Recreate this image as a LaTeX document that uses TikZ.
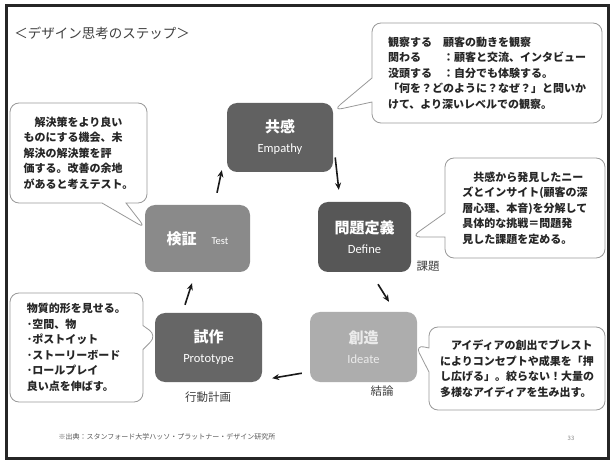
\documentclass[tikz,border=0pt]{standalone}
\usepackage{fontspec}
\setmainfont{Noto Sans CJK JP}
\newfontfamily\jp{Noto Sans CJK JP}
\newfontfamily\lat{Carlito}
\newcommand\enword{\lat\mdseries\fontsize{12.5}{14}\selectfont}
\usetikzlibrary{shapes.callouts,calc,arrows.meta}
\begin{document}
\begin{tikzpicture}[x=1pt,y=-1pt,
  stepbox/.style={rounded corners=10pt, text=white, align=center, inner sep=0pt,
    font=\jp\bfseries\fontsize{15}{22}\selectfont},
  note/.style={rectangle callout, draw=black!40, line width=0.8pt, fill=white,
    rounded corners=9pt, callout pointer width=24pt, align=left, inner sep=0pt,
    text=black!85, font=\jp\bfseries\fontsize{11}{15.5}\selectfont},
  flow/.style={-{Stealth[length=7pt,width=6pt]}, line width=1.6pt, black!90},
  lbl/.style={text=black!75, font=\jp\fontsize{11.5}{13}\selectfont}]
\useasboundingbox (0,0) rectangle (613,462);
\fill[white] (0,0) rectangle (613,462);
\node[draw=black!85, line width=2.6pt, minimum width=602pt, minimum height=453pt, inner sep=0pt] (frame) at (307.5,232) {};

\node[text=black!75, font=\jp\fontsize{13.5}{16}\selectfont] (title) at (102,33) {＜デザイン思考のステップ＞};

% step boxes
\node[stepbox, fill=black!62, minimum width=106pt, minimum height=69pt] (empathy) at (280,137.5)
  {共感\\[-2pt]{\enword Empathy}};
\node[stepbox, fill=black!66, minimum width=93pt, minimum height=70pt] (define) at (364.5,237)
  {問題定義\\[-2pt]{\enword Define}};
\node[stepbox, fill=black!32, text=white!92!black, minimum width=107pt, minimum height=70pt] (ideate) at (363.5,347)
  {創造\\[-2pt]{\enword Ideate}};
\node[stepbox, fill=black!60, minimum width=107pt, minimum height=69pt] (proto) at (208.5,347.5)
  {試作\\[-2pt]{\enword Prototype}};
\node[stepbox, fill=black!46, minimum width=105pt, minimum height=67pt] (test) at (197.5,238.5)
  {検証\quad{\enword\fontsize{10.5}{13}\selectfont Test}};

% arrows
\draw[flow] ($(test.north)+(19.5,-12)$) -- ($(empathy.south west)+(-5,-2)$);
\draw[flow] ($(empathy.east)+(2,20)$) -- ($(define.north west)+(21,-12)$);
\draw[flow] ($(define.south)+(13.5,12)$) -- ($(ideate.north)+(25.5,-10)$);
\draw[flow] ($(ideate.south west)+(-8,-9)$) -- ($(proto.south east)+(10,-4)$);
\draw[flow] ($(proto.north)+(-23.5,-8)$) -- ($(test.south)+(-5.5,11)$);

% labels
\node[lbl] (lkadai) at (428,266) {課題};
\node[lbl] (lketsu) at (382,391) {結論};
\node[lbl] (lkodo) at (208,397) {行動計画};

% callout pointers
\coordinate (pE) at ($(empathy.east)+(0,-27)$);
\coordinate (pT) at ($(test.west)+(1,-10)$);
\coordinate (pD) at ($(define.east)+(0,0)$);
\coordinate (pP) at ($(proto.west)+(2,-12)$);
\coordinate (pI) at ($(ideate.east)+(-2,-2)$);

% callouts
\node[note, minimum width=230pt, minimum height=100pt, callout absolute pointer={(pE)}] (nE) at (487,73)
  {観察する　顧客の動きを観察\\
   関わる　　：顧客と交流、インタビュー\\
   没頭する　：自分でも体験する。\\
   「何を？どのように？なぜ？」と問いか\\
   けて、より深いレベルでの観察。};
\node[note, minimum width=137pt, minimum height=100pt, callout absolute pointer={(pT)}] (nT) at (78.5,153)
  {　解決策をより良い\\
   ものにする機会、未\\
   解決の解決策を評\\
   価する。改善の余地\\
   があると考えテスト。};
\node[note, minimum width=160pt, minimum height=100pt, callout absolute pointer={(pD)}] (nD) at (525,208)
  {　共感から発見したニー\\
   ズとインサイト(顧客の深\\
   層心理、本音)を分解して\\
   具体的な挑戦＝問題発\\
   見した課題を定める。};
\node[note, minimum width=133pt, minimum height=109pt, callout absolute pointer={(pP)}] (nP) at (76.5,347.5)
  {物質的形を見せる。\\
   ･空間、物\\
   ･ポストイット\\
   ･ストーリーボード\\
   ･ロールプレイ\\
   良い点を伸ばす。};
\node[note, minimum width=176pt, minimum height=83pt, callout absolute pointer={(pI)}] (nI) at (517,368.5)
  {　アイディアの創出でブレスト\\
   によりコンセプトや成果を「押\\
   し広げる」。絞らない！大量の\\
   多様なアイディアを生み出す。};

% footer
\node[text=black!65, font=\jp\fontsize{7}{8}\selectfont] (src) at (167,437)
  {※出典：スタンフォード大学ハッソ・プラットナー・デザイン研究所};
\node[text=black!45, font=\jp\fontsize{6}{7}\selectfont] (pg) at (571,438) {33};
\end{tikzpicture}
\end{document}
